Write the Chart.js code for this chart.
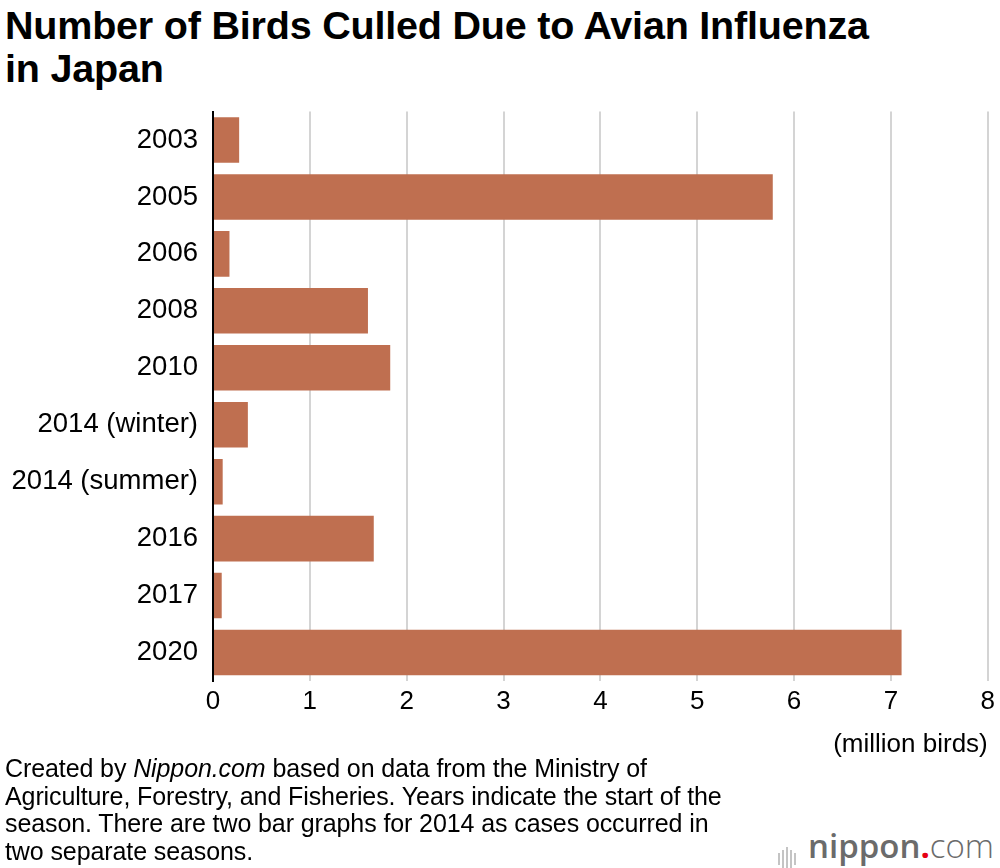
<!DOCTYPE html>
<html>
<head>
<meta charset="utf-8">
<script src="https://cdn.jsdelivr.net/npm/chart.js@4"></script>
<style>
  html, body { margin: 0; padding: 0; background: #fff; }
  body { width: 1000px; height: 868px; position: relative; overflow: hidden; font-family: "Liberation Sans", Arial, sans-serif; color: #000; }
  #title { position: absolute; left: 5px; top: 4px; font-size: 39.5px; font-weight: bold; line-height: 43px; letter-spacing: -0.2px; }
  #wrap { position: absolute; left: 0; top: 80px; width: 1000px; height: 680px; }
  #note { position: absolute; left: 5px; top: 755px; font-size: 25px; line-height: 27.5px; letter-spacing: -0.1px; }
  #logo { position: absolute; right: 6px; top: 826px; font-family: "Open Sans", sans-serif; font-size: 33px; color: #6b6b6b; line-height: 40px; }
  #logo b { font-weight: 600; }
  #logo .dot { color: #e60012; font-weight: 700; }
  #logo .c { font-weight: 300; }
  #logo .bars { display: inline-block; vertical-align: middle; margin-right: 10px; height: 26px; }
  #logo .bars i { display: inline-block; width: 2px; background: #c4c4c4; margin-right: 2px; vertical-align: middle; }
</style>
</head>
<body>
<div id="title">Number of Birds Culled Due to Avian Influenza<br>in Japan</div>
<div id="wrap"><canvas id="myChart"></canvas></div>
<div id="note">Created by <i>Nippon.com</i> based on data from the Ministry of<br>Agriculture, Forestry, and Fisheries. Years indicate the start of the<br>season. There are two bar graphs for 2014 as cases occurred in<br>two separate seasons.</div>
<div id="logo"><span class="bars"><i style="height:12px"></i><i style="height:18px"></i><i style="height:24px"></i><i style="height:18px"></i><i style="height:12px"></i></span><b>nippon</b><span class="dot">.</span><span class="c">com</span></div>
<script>
const categories = ['2003', '2005', '2006', '2008', '2010', '2014 (winter)', '2014 (summer)', '2016', '2017', '2020'];
const birds_culled = [0.27, 5.78, 0.17, 1.60, 1.83, 0.36, 0.10, 1.66, 0.09, 7.11]; // million birds
const x_min = 0;
const x_max = 8;
const x_step = 1;
const unit_label = '(million birds)';

const font_family = '"Liberation Sans", Arial, sans-serif';

new Chart("myChart", {
  type: 'bar',
  data: {
    labels: categories,
    datasets: [{
      data: birds_culled,
      backgroundColor: '#bf6f50',
      borderWidth: 0,
      barPercentage: 0.8,
      categoryPercentage: 1
    }]
  },
  options: {
    indexAxis: 'y',
    responsive: true,
    maintainAspectRatio: false,
    animation: false,
    layout: { padding: { top: 8, right: 9, left: 0, bottom: 0 } },
    plugins: {
      legend: { display: false },
      tooltip: { enabled: false }
    },
    scales: {
      x: {
        min: x_min,
        max: x_max,
        ticks: {
          stepSize: x_step,
          color: '#000',
          font: { family: font_family, size: 26 },
          padding: 5
        },
        grid: {
          color: (c) => c.tick && c.tick.value === 0 ? 'rgba(0,0,0,0)' : '#d4d4d4',
          lineWidth: 2,
          drawTicks: false
        },
        border: { display: false },
        title: {
          display: true,
          text: unit_label,
          align: 'end',
          color: '#000',
          font: { family: font_family, size: 26 },
          padding: { top: 6, bottom: 0 }
        },
        afterFit: (axis) => { axis.height = 79; }
      },
      y: {
        ticks: {
          color: '#000',
          font: { family: font_family, size: 27.5 },
          padding: 15
        },
        grid: { display: false, drawTicks: false },
        border: { display: true, color: '#000', width: 2 },
        afterFit: (axis) => { axis.width = 213; }
      }
    }
  }
});
</script>
</body>
</html>
